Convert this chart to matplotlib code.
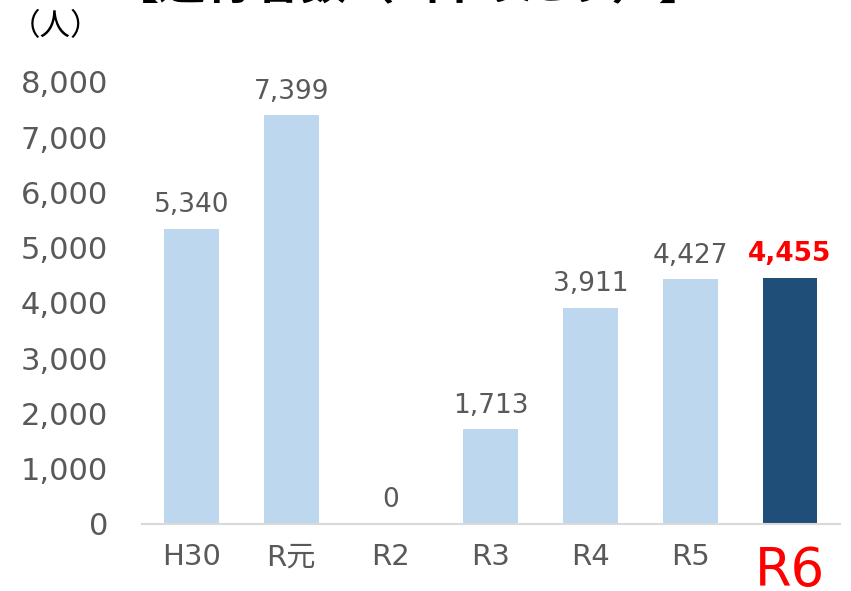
import matplotlib
matplotlib.use("Agg")
import matplotlib.pyplot as plt
from matplotlib.transforms import ScaledTranslation

# データ
categories = ["H30", "R元", "R2", "R3", "R4", "R5", "R6"]
values = [5340, 7399, 0, 1713, 3911, 4427, 4455]
value_labels = ["5,340", "7,399", "0", "1,713", "3,911", "4,427", "4,455"]
yticks = [0, 1000, 2000, 3000, 4000, 5000, 6000, 7000, 8000]
ytick_labels = ["0", "1,000", "2,000", "3,000", "4,000", "5,000", "6,000", "7,000", "8,000"]

# 英数字は DejaVu Sans、和文は Noto Sans CJK JP
plt.rcParams['font.family'] = ['DejaVu Sans', 'Noto Sans CJK JP']

light = "#BDD7EE"
dark = "#1F4E79"
gray = "#595959"
red = "#FF0000"

fig = plt.figure(figsize=(8.51, 5.91), dpi=100)
ax = fig.add_axes([0.1663, 0.1134, 0.8207, 0.7479])

x = range(len(categories))
colors = [light] * (len(categories) - 1) + [dark]
ax.bar(x, values, width=0.55, color=colors)

# データラベル
for i, (v, lab) in enumerate(zip(values, value_labels)):
    if i == len(values) - 1:
        ax.annotate(lab, (i, v), xytext=(0, 12), textcoords="offset points",
                    ha="center", va="baseline", fontsize=19, color=red, fontweight="bold")
    else:
        ax.annotate(lab, (i, v), xytext=(0, 12), textcoords="offset points",
                    ha="center", va="baseline", fontsize=19, color=gray)

ax.set_xlim(-0.5, len(categories) - 0.5)
ax.set_ylim(0, 8000)
ax.set_yticks(yticks)
ax.set_yticklabels(ytick_labels, fontsize=22, color=gray)
ax.set_xticks(list(x))
ax.set_xticklabels(categories, fontsize=21, color=gray)
ax.tick_params(axis="both", length=0)
ax.tick_params(axis="y", pad=24)
ax.tick_params(axis="x", pad=14)

# R6 は赤・大きめ
last = ax.get_xticklabels()[-1]
last.set_color(red)
last.set_fontsize(38)
last.set_transform(last.get_transform() + ScaledTranslation(0, -2 / 100, fig.dpi_scale_trans))

for s in ["top", "right", "left"]:
    ax.spines[s].set_visible(False)
ax.spines["bottom"].set_color("#D9D9D9")
ax.spines["bottom"].set_linewidth(1.5)

fig.text(0.012, 0.955, "（人）", fontsize=22, color="black", va="center", ha="left",
         family="Noto Sans CJK JP")
fig.text(0.481, 1 + 1 / 591, "【通行者数（1日あたり）】", fontsize=34, fontweight="bold",
         color="black", ha="center", va="baseline", family="Noto Sans CJK JP")

fig.savefig("out.png", dpi=100)
